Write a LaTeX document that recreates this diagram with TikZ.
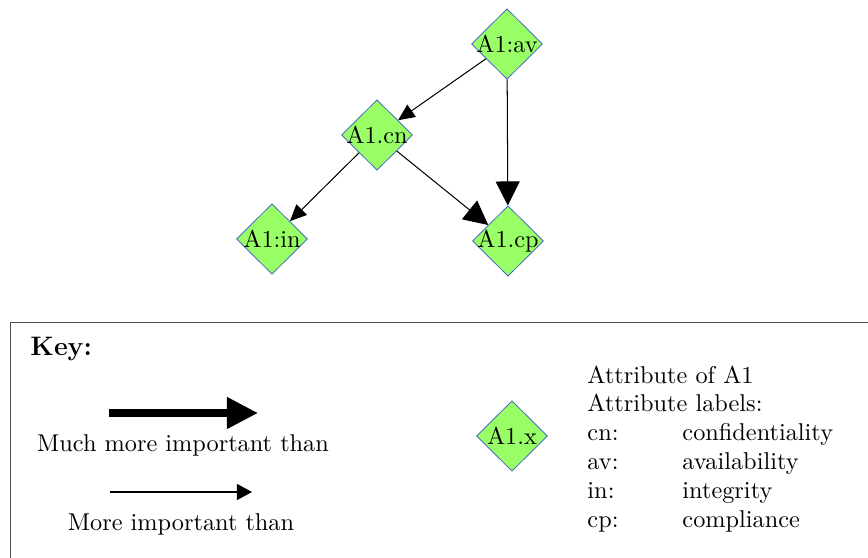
\documentclass[tikz,border=0pt]{standalone}
\usetikzlibrary{shapes.geometric,arrows.meta}
\definecolor{attrfill}{HTML}{99FF66}
\definecolor{attrline}{RGB}{70,110,190}
\definecolor{keyframe}{RGB}{80,80,80}
\begin{document}
\begin{tikzpicture}[x=0.4115pt,y=-0.4115pt,
  attr/.style={shape=diamond,draw=attrline,line width=0.35pt,fill=attrfill,
    minimum width=29.2pt,minimum height=29pt,inner sep=0pt},
  attrtext/.style={inner sep=0pt,font=\normalsize},
  more/.style={line width=0.42pt,-{Triangle[length=6.8pt,width=6.1pt]}},
  muchmore/.style={line width=0.42pt,-{Triangle[length=9.9pt,width=9.9pt]}},
  keytext/.style={anchor=base,inner sep=0pt},
  legtext/.style={anchor=base west,inner sep=0pt}]
\useasboundingbox (0,0) rectangle (868,558);

% attribute nodes
\node[attr] (av) at (507,44) {};
\node[attrtext] (avt) at (av) {A1:av};
\node[attr] (cn) at (377,135) {};
\node[attrtext] (cnt) at (cn) {A1.cn};
\node[attr] (in) at (272,239) {};
\node[attrtext] (int) at (in) {A1:in};
\node[attr] (cp) at (508,241) {};
\node[attrtext] (cpt) at (cp) {A1.cp};

% importance relations
\draw[more] (av) -- (cn);
\draw[muchmore] (av) -- (cp);
\draw[muchmore] (cn) -- (cp);
\draw[more] (cn) -- (in);

% key frame
\draw[keyframe,line width=0.4pt] (10,322) rectangle (872,565);
\node[legtext,font=\fontsize{11}{13}\selectfont\bfseries] (key) at (30,355) {Key:};

\coordinate (mms) at (109,413);
\coordinate (mme) at (258,413);
\draw[line width=2.9pt,-{Triangle[length=12.8pt,width=12.4pt]}] (mms) -- (mme);
\node[keytext] (mmt) at (183,451) {Much more important than};

\coordinate (ms) at (110,492);
\coordinate (me) at (252,492);
\draw[line width=0.55pt,-{Triangle[length=6.2pt,width=6.6pt]}] (ms) -- (me);
\node[keytext] (mt) at (181,530) {More important than};

\node[attr] (x) at (512,436) {};
\node[attrtext] (xt) at (x) {A1.x};

\node[legtext] (l1) at (587,383) {Attribute of A1};
\node[legtext] (l2) at (587,411.5) {Attribute labels:};
\node[legtext] (l3) at (587,440) {cn:};
\node[legtext] (l3b) at (682,440) {confidentiality};
\node[legtext] (l4) at (587,469) {av:};
\node[legtext] (l4b) at (682,469) {availability};
\node[legtext] (l5) at (587,498) {in:};
\node[legtext] (l5b) at (682,498) {integrity};
\node[legtext] (l6) at (587,527) {cp:};
\node[legtext] (l6b) at (682,527) {compliance};
\end{tikzpicture}
\end{document}
